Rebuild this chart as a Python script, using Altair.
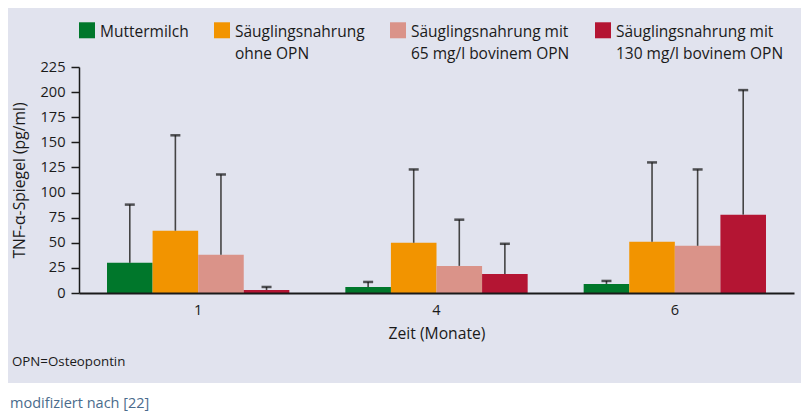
import altair as alt
import pandas as pd

# ---- data ----
zeit = ["1", "4", "6"]
gruppen = [
    "Muttermilch|",
    "Säuglingsnahrung|ohne OPN",
    "Säuglingsnahrung mit|65 mg/l bovinem OPN",
    "Säuglingsnahrung mit|130 mg/l bovinem OPN",
]
farben = ["#00772b", "#f29400", "#da9389", "#b41533"]

mittel_mm = [30, 6, 9]
mittel_ohne = [62, 50, 51]
mittel_65 = [38, 27, 47]
mittel_130 = [3, 19, 78]

oben_mm = [88, 11, 12]
oben_ohne = [157, 123, 130]
oben_65 = [118, 73, 123]
oben_130 = [6, 49, 202]

y_ticks = [0, 25, 50, 75, 100, 125, 150, 175, 200, 225]

mittel = [mittel_mm, mittel_ohne, mittel_65, mittel_130]
oben = [oben_mm, oben_ohne, oben_65, oben_130]

rows = []
for g, m, o in zip(gruppen, mittel, oben):
    for z, mv, ov in zip(zeit, m, o):
        rows.append({"zeit": z, "gruppe": g, "wert": mv, "oben": ov})
df = pd.DataFrame(rows)

W, H = 715, 226
FONT = "Open Sans"
TXT = "#1a1a1a"
BG = "#e1e3ee"

x_axis = alt.Axis(
    title="Zeit (Monate)",
    labelAngle=0,
    ticks=False,
    labelPadding=9,
    labelFontSize=14.6,
    labelColor=TXT,
    titleFontSize=15.7,
    titleFontWeight="normal",
    titleColor=TXT,
    titleY=45,
    titleBaseline="alphabetic",
    domainColor=TXT,
    domainWidth=2,
    zindex=1,
)
y_axis = alt.Axis(
    values=y_ticks,
    title="TNF-α-Spiegel (pg/ml)",
    grid=False,
    tickSize=8,
    tickColor=TXT,
    tickWidth=1.5,
    labelPadding=6,
    labelFontSize=14.6,
    labelColor=TXT,
    labelOverlap=False,
    domainColor=TXT,
    domainWidth=1.5,
    titleFontSize=15.7,
    titleFontWeight="normal",
    titleColor=TXT,
    titleAngle=270,
    titleX=-60,
    titleY=113,
    titleAlign="center",
    titleBaseline="middle",
    zindex=1,
)
x_scale = alt.Scale(paddingInner=0.235, paddingOuter=0.1175)
xo_scale = alt.Scale(paddingInner=0, paddingOuter=0)
y_scale = alt.Scale(domain=[0, 225], nice=False)


def x_enc():
    return alt.X("zeit:N", sort=zeit, scale=x_scale, axis=x_axis)


def xo_enc():
    return alt.XOffset("gruppe:N", sort=gruppen, scale=xo_scale)


color_enc = alt.Color(
    "gruppe:N",
    sort=gruppen,
    scale=alt.Scale(domain=gruppen, range=farben),
    legend=alt.Legend(
        title=None,
        orient="none",
        legendX=0,
        legendY=-50,
        direction="horizontal",
        columns=4,
        symbolType="M-1,-0.34L1,-0.34L1,1.66L-1,1.66Z",
        symbolSize=256,
        symbolStrokeWidth=0,
        labelExpr="split(datum.label, '|')",
        labelBaseline="top",
        labelFontSize=15.5,
        labelColor=TXT,
        labelOffset=5,
        columnPadding=25,
        labelLimit=400,
        padding=0,
        rowPadding=0,
        gridAlign="each",
    ),
)

panel = alt.Chart(pd.DataFrame({"p": [0]})).mark_rect(color=BG).encode(
    x=alt.value(-71), x2=alt.value(W + 7), y=alt.value(-59), y2=alt.value(316)
)

bars = alt.Chart(df).mark_bar().encode(
    x=x_enc(),
    xOffset=xo_enc(),
    y=alt.Y("wert:Q", scale=y_scale, axis=y_axis),
    color=color_enc,
)

err = alt.Chart(df).mark_rule(color="#444444", strokeWidth=1.6).encode(
    x=x_enc(),
    xOffset=xo_enc(),
    y=alt.Y("wert:Q", scale=y_scale, axis=y_axis),
    y2="oben:Q",
)

caps = alt.Chart(df).mark_tick(color="#111111", size=10, thickness=2.5).encode(
    x=x_enc(),
    xOffset=xo_enc(),
    y=alt.Y("oben:Q", scale=y_scale, axis=y_axis),
)

note1 = alt.Chart(pd.DataFrame({"t": ["OPN=Osteopontin"]})).mark_text(
    align="left", baseline="alphabetic", fontSize=13.3, color=TXT, font=FONT
).encode(x=alt.value(-67), y=alt.value(299), text="t:N")

note2 = alt.Chart(pd.DataFrame({"t": ["modifiziert nach [22]"]})).mark_text(
    align="left", baseline="alphabetic", fontSize=14.5, color="#4a6b8c", font=FONT
).encode(x=alt.value(-69), y=alt.value(341), text="t:N")

chart = (
    alt.layer(panel, bars, err, caps, note1, note2)
    .properties(
        width=W,
        height=H,
        padding={"left": 71, "top": 59, "right": 7, "bottom": 119},
        autosize=alt.AutoSizeParams(type="none"),
        background="white",
    )
    .configure(font=FONT, style={"guide-label": {"lineHeight": 21.5}})
    .configure_view(stroke=None)
)

chart.save("out.html", embed_options={"renderer": "svg", "actions": False})
